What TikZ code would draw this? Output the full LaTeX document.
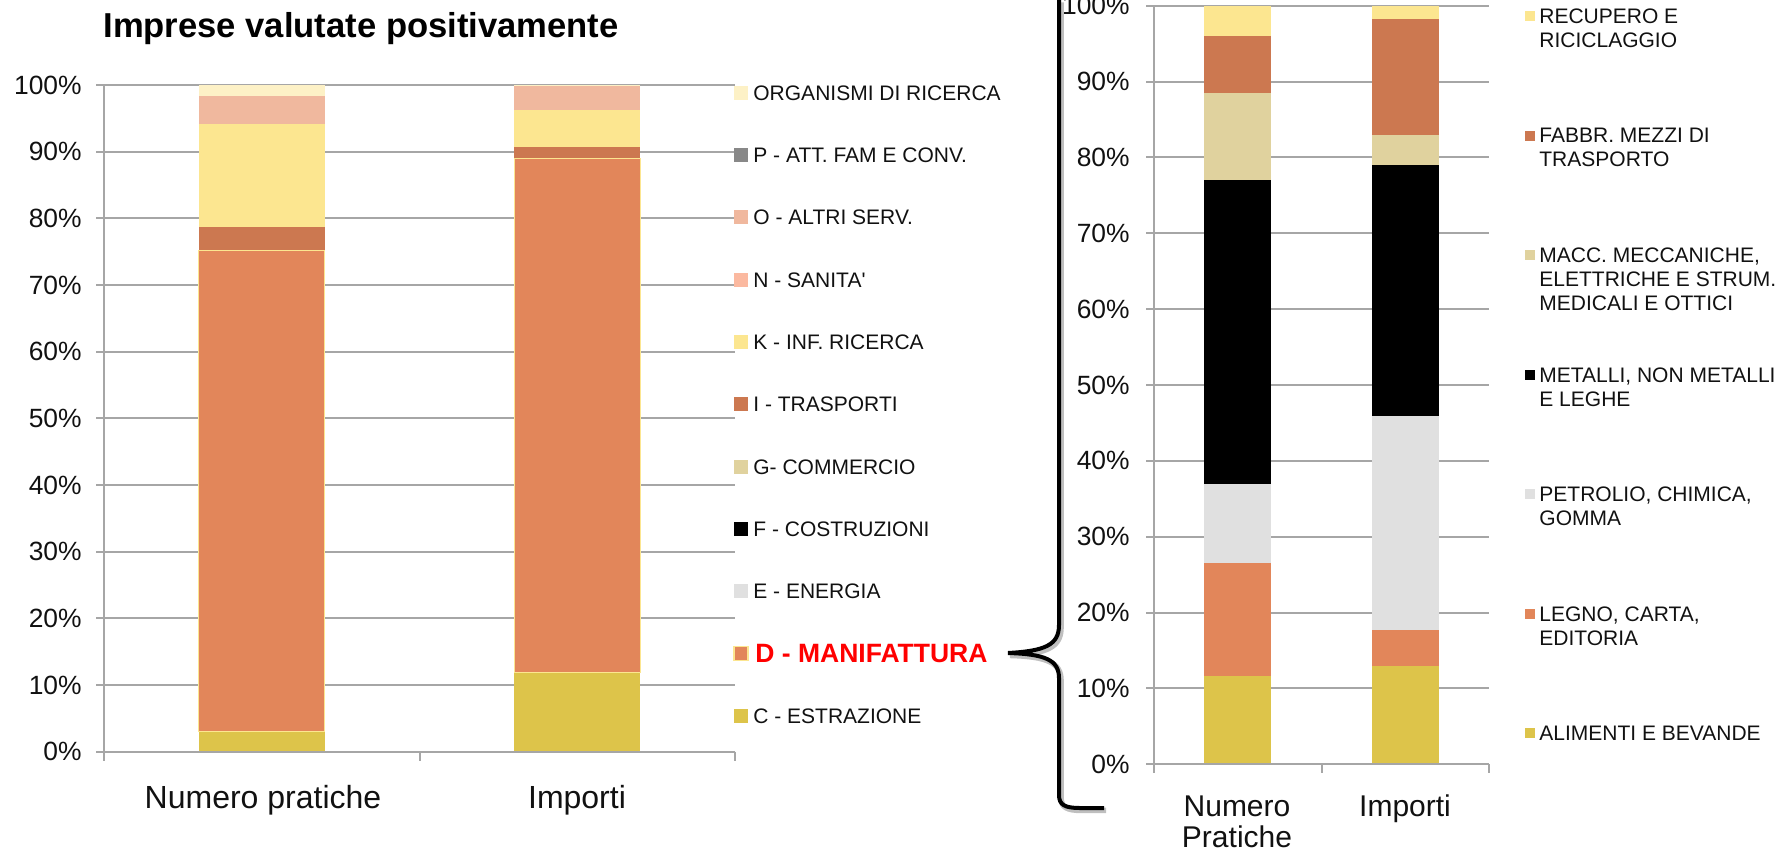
\documentclass[tikz,border=0pt]{standalone}
\usepackage{fontspec}
\setmainfont{Liberation Sans}
\usetikzlibrary{positioning}
\definecolor{cyel}{HTML}{DDC44A}
\definecolor{dorg}{HTML}{E2865A}
\definecolor{ibrn}{HTML}{CC7850}
\definecolor{kyel}{HTML}{FCE690}
\definecolor{oros}{HTML}{F0B89E}
\definecolor{nsal}{HTML}{FBB9A0}
\definecolor{orgc}{HTML}{FDF1C6}
\definecolor{gbei}{HTML}{E0D29E}
\definecolor{egry}{HTML}{E0E0E0}
\definecolor{pgry}{HTML}{888888}
\definecolor{gridc}{HTML}{A6A6A6}
\definecolor{txt}{HTML}{111111}

\begin{document}
\begin{tikzpicture}[x=0.5pt, y=-0.5pt,
    gridline/.style={draw=gridc, line width=1pt},
    ylab/.style={anchor=east, inner sep=0pt, text=txt, font=\fontsize{13.2}{15}\selectfont},
    xlab/.style={anchor=base, inner sep=0pt, text=txt, font=\fontsize{15}{18}\selectfont},
    legtext/.style={inner sep=0pt, text=txt, font=\fontsize{10.5}{12}\selectfont},
    bracestyle/.style={line width=2pt, preaction={draw=gray!50, line width=2.8pt, transform canvas={shift={(1pt,-1.2pt)}}}}]
    \useasboundingbox (0,0) rectangle (1784,851);

    \node[anchor=base west, inner sep=0pt, text=black, font=\fontsize{17.3}{20}\selectfont\bfseries] (title) at (103,38) {Imprese valutate positivamente};

    % grafico sinistro: settori
    \begin{scope}[shift={(104,751.7)}, yscale=-6.6667]
        \foreach \p in {10,20,...,100} {
            \draw[gridline] (-8,\p) -- (631,\p);
        }
        \foreach \p in {0,10,...,100} {
            \node[ylab] (ylL\p) at (-22,\p) {\p\%};
        }
        % Numero pratiche
        \foreach \lo/\hi/\col in {0/3/cyel, 3/75.15/dorg, 75.15/78.65/ibrn, 78.65/94.1/kyel, 94.1/98.4/oros, 98.4/100/orgc}
            \fill[\col] (94.65,\lo) rectangle (220.85,\hi);
        \draw[kyel, line width=0.6pt] (94.65,3) rectangle (220.85,75.15);
        % Importi
        \foreach \lo/\hi/\col in {0/11.9/cyel, 11.9/89/dorg, 89/90.65/ibrn, 90.65/96.2/kyel, 96.2/99.8/oros, 99.8/100/orgc}
            \fill[\col] (410.15,\lo) rectangle (536.35,\hi);
        \draw[kyel, line width=0.6pt] (410.15,11.9) rectangle (536.35,89);
        \draw[gridline] (-8,0) -- (631,0);
        \draw[gridline] (0,0) -- (0,100);
        \foreach \x in {0,315.5,631} \draw[gridline] (\x,0) -- (\x,-1.35);
    \end{scope}

    \node[xlab, font=\fontsize{16}{19}\selectfont] (xlL1) at (263,808) {Numero pratiche};
    \node[xlab, font=\fontsize{16}{19}\selectfont] (xlL2) at (577,808) {Importi};

    % legenda sinistra
    \foreach \i/\col/\txt in {0/orgc/ORGANISMI DI RICERCA, 1/pgry/P - ATT. FAM E CONV., 2/oros/O - ALTRI SERV., 3/nsal/N - SANITA\textquotesingle, 4/kyel/K - INF. RICERCA, 5/ibrn/I - TRASPORTI, 6/gbei/G- COMMERCIO, 7/black/F - COSTRUZIONI, 8/egry/E - ENERGIA, 10/cyel/C - ESTRAZIONE} {
        \fill[\col] (734,{85.7+62.3*\i}) rectangle (748,{99.7+62.3*\i});
        \node[legtext, anchor=base west] (legL\i) at (753,{100.2+62.3*\i}) {\txt};
    }
    \filldraw[fill=dorg, draw=kyel, line width=0.6pt] (734,646.4) rectangle (748,660.4);
    \node[anchor=base west, inner sep=0pt, text=red, font=\fontsize{13.25}{16}\selectfont\bfseries] (legD) at (755,662) {D - MANIFATTURA};

    % parentesi graffa
    \coordinate (braceTip) at ([xshift=10pt]legD.east);
    \coordinate (braceTop) at (1059,0);
    \coordinate (braceEnd) at (1104,808);
    \draw[bracestyle] (braceTop) -- (1059,625) .. controls (1059,645) and (1045,651) .. (braceTip)
        .. controls (1045,654) and (1059,660) .. (1059,678) -- (1059,795)
        .. controls (1059,805) and (1065,808) .. (1080,808) -- (braceEnd);

    % grafico destro: manifattura
    \begin{scope}[shift={(1154,764.3)}, yscale=-7.586]
        \foreach \p in {10,20,...,100} {
            \draw[gridline] (-8,\p) -- (335,\p);
        }
        \foreach \p in {0,10,...,100} {
            \node[ylab] (ylR\p) at (-24,\p) {\p\%};
        }
        % Numero pratiche
        \foreach \lo/\hi/\col in {0/11.7/cyel, 11.7/26.6/dorg, 26.6/37/egry, 37/77/black, 77/88.5/gbei, 88.5/96/ibrn, 96/100/kyel}
            \fill[\col] (50.25,\lo) rectangle (117.25,\hi);
        % Importi
        \foreach \lo/\hi/\col in {0/13/cyel, 13/17.7/dorg, 17.7/45.9/egry, 45.9/79/black, 79/82.9/gbei, 82.9/98.2/ibrn, 98.2/100/kyel}
            \fill[\col] (217.75,\lo) rectangle (284.75,\hi);
        \draw[gridline] (-8,0) -- (335,0);
        \draw[gridline] (0,0) -- (0,100);
        \foreach \x in {0,167.5,335} \draw[gridline] (\x,0) -- (\x,-1.19);
    \end{scope}

    \node[xlab] (xlR1) at (1237,816) {Numero};
    \node[xlab] (xlR1b) at ([yshift=-15.5pt]xlR1.base) {Pratiche};
    \node[xlab] (xlR2) at (1405,816) {Importi};

    % legenda destra
    \foreach \i/\col/\txt in {0/kyel/{RECUPERO E\\RICICLAGGIO}, 1/ibrn/{FABBR. MEZZI DI\\TRASPORTO}, 2/gbei/{MACC. MECCANICHE,\\ELETTRICHE E STRUM.\\MEDICALI E OTTICI}, 3/black/{METALLI, NON METALLI\\E LEGHE}, 4/egry/{PETROLIO, CHIMICA,\\GOMMA}, 5/dorg/{LEGNO, CARTA,\\EDITORIA}, 6/cyel/{ALIMENTI E BEVANDE}} {
        \fill[\col] (1525,{11+119.5*\i}) rectangle (1535,{21+119.5*\i});
        \node[legtext, anchor=north west, align=left] (legR\i) at (1539,{8.5+119.5*\i}) {\txt};
    }
\end{tikzpicture}
\end{document}
